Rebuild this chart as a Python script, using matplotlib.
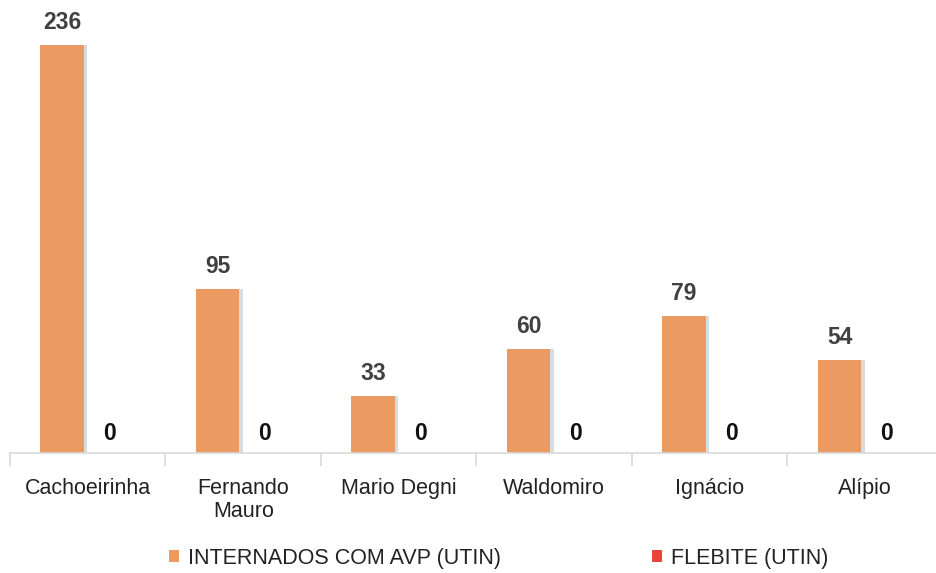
import numpy as np
import matplotlib.pyplot as plt

# Dados
unidades = ['Cachoeirinha', 'Fernando\nMauro', 'Mario Degni', 'Waldomiro', 'Ignácio', 'Alípio']
internados_avp = [236, 95, 33, 60, 79, 54]
flebite = [0, 0, 0, 0, 0, 0]

cor_avp = '#EB9B62'
cor_flebite = '#E8453C'

plt.rcParams['font.family'] = ['Liberation Sans', 'DejaVu Sans']

fig = plt.figure(figsize=(9.37, 5.73), dpi=100)
ax = fig.add_axes([10 / 937, 120 / 573, 933 / 937, 449.5 / 573])

x = np.arange(len(unidades))
largura = 0.28
desl = 0.165

# sombra leve a direita das barras
ax.bar(x - desl + 0.022, internados_avp, largura, color='#D5DCE2', zorder=1)
b1 = ax.bar(x - desl, internados_avp, largura, color=cor_avp, zorder=2,
            label='INTERNADOS COM AVP (UTIN)')
b2 = ax.bar(x + desl, flebite, largura, color=cor_flebite, zorder=2,
            label='FLEBITE (UTIN)')

for rect, v in zip(b1, internados_avp):
    ax.annotate(str(v), (rect.get_x() + rect.get_width() / 2, v),
                xytext=(0, 8), textcoords='offset points', ha='center', va='bottom',
                fontsize=16.5, fontweight='bold', color='#404040')
for rect, v in zip(b2, flebite):
    ax.annotate(str(v), (rect.get_x() + rect.get_width() / 2, v),
                xytext=(-3, 6), textcoords='offset points', ha='center', va='bottom',
                fontsize=16.5, fontweight='bold', color='#111111')

ax.set_xlim(-0.5, len(unidades) - 0.5)
ax.set_ylim(0, 260)
ax.set_yticks([])
for s in ['top', 'right', 'left']:
    ax.spines[s].set_visible(False)
ax.spines['bottom'].set_color('#D9D9D9')
ax.spines['bottom'].set_linewidth(1.2)

ax.set_xticks(x)
ax.set_xticklabels(unidades, fontsize=15.5, color='#222222', linespacing=1.15)
ax.tick_params(axis='x', length=0, pad=18)
ax.set_xticks(np.arange(len(unidades)) - 0.5, minor=True)
ax.tick_params(axis='x', which='minor', length=9, color='#D9D9D9', width=1.2)

leg = fig.legend(loc='center', bbox_to_anchor=(0.532, 0.026), ncol=2, frameon=False,
                 fontsize=15.5, handlelength=0.5, handleheight=0.5, handletextpad=0.4,
                 columnspacing=7.0)
for t in leg.get_texts():
    t.set_color('#222222')

fig.savefig('out.png', dpi=100)
